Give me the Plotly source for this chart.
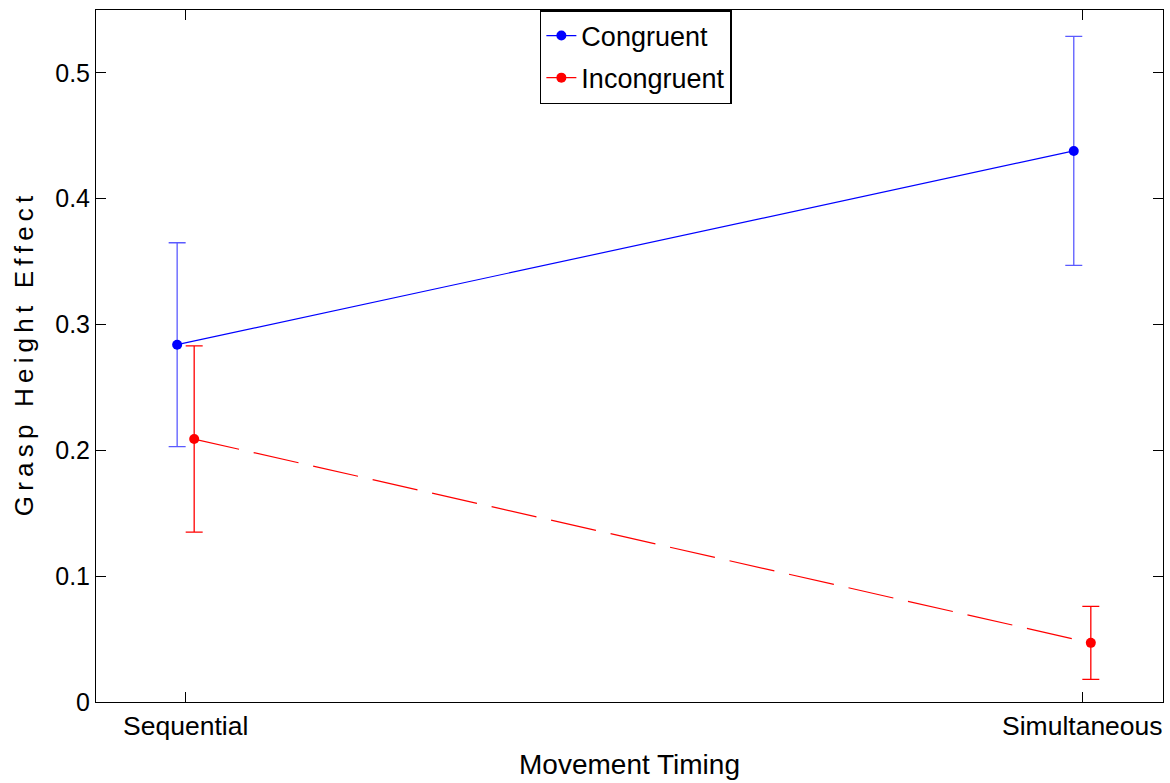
import plotly.graph_objects as go

categories = ["Sequential", "Simultaneous"]
cat_pos = [1, 2]
congruent = [0.284, 0.438]
congruent_err = [0.081, 0.091]
incongruent = [0.209, 0.047]
incongruent_err = [0.074, 0.029]
offset = 0.0095

FONT = "Liberation Sans, Arial, sans-serif"

fig = go.Figure()
fig.add_trace(go.Scatter(
    x=[p - offset for p in cat_pos], y=congruent, name="Congruent",
    mode="lines+markers", legendgroup="c",
    line=dict(color="blue", width=1.2),
    marker=dict(color="blue", size=10),
    error_y=dict(type="data", array=congruent_err, color="rgb(90,90,255)", thickness=1.3, width=8.5),
))
fig.add_trace(go.Scatter(
    x=[p + offset for p in cat_pos], y=incongruent, name="Incongruent",
    mode="lines+markers", legendgroup="i",
    line=dict(color="red", width=1.2, dash="46px,15px"),
    marker=dict(color="red", size=10),
    error_y=dict(type="data", array=incongruent_err, color="red", thickness=1.3, width=8.5),
))

axis_common = dict(
    showline=True, linecolor="black", linewidth=1, mirror="ticks",
    ticks="inside", ticklen=10, tickcolor="black", showgrid=False, zeroline=False,
)

ytitle = "\u2009".join("Grasp Height Effect")

fig.update_layout(
    width=1170, height=783,
    margin=dict(l=96, r=7, t=10, b=81),
    paper_bgcolor="white", plot_bgcolor="white",
    font=dict(family=FONT, color="black"),
    xaxis=dict(range=[0.9, 2.09], tickvals=cat_pos, ticktext=categories,
               tickfont=dict(family=FONT, size=26.5, color="black"),
               title=dict(text="Movement Timing", font=dict(family=FONT, size=28), standoff=14),
               **axis_common),
    yaxis=dict(range=[0, 0.55], tickvals=[0, 0.1, 0.2, 0.3, 0.4, 0.5],
               ticktext=["0", "0.1", "0.2", "0.3", "0.4", "0.5"],
               tickfont=dict(family=FONT, size=25, color="black"),
               title=dict(text=ytitle, font=dict(family=FONT, size=26), standoff=14),
               **axis_common),
    legend=dict(x=0.416, y=1.0, xanchor="left", yanchor="top",
                bgcolor="white", bordercolor="black", borderwidth=1.5,
                font=dict(family=FONT, size=27, color="black"),
                itemwidth=30, tracegroupgap=4),
    showlegend=True,
)

fig.write_html("out.html")
